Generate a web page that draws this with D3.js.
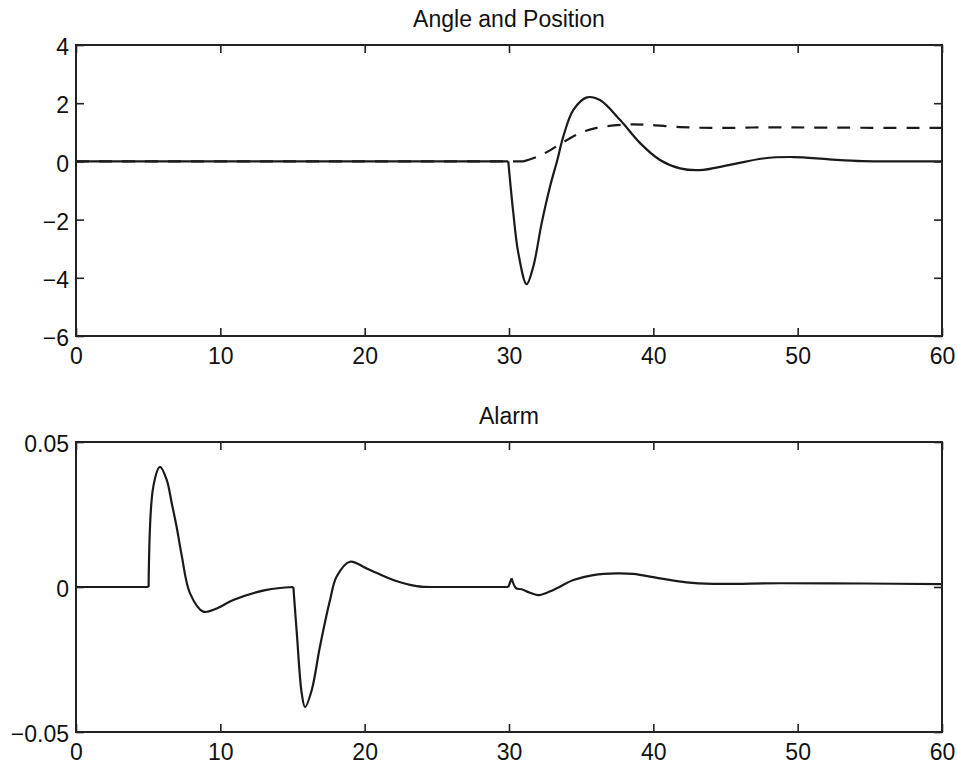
<!DOCTYPE html>
<html>
<head>
<meta charset="utf-8">
<script src="https://cdn.jsdelivr.net/npm/d3@7"></script>
<style>
  body { margin: 0; background: #fff; }
  svg { font-family: "Liberation Sans", Arial, Helvetica, sans-serif; }
  .asse text { font-size: 23px; fill: #111; }
  .asse path { display: none; }
  .asse line { stroke: #222; stroke-width: 1.6; }
  .cornice { fill: none; stroke: #222; stroke-width: 2; }
  .titolo { font-size: 23px; fill: #111; text-anchor: middle; }
  .curva { fill: none; stroke: #1a1a1a; stroke-width: 2.2; stroke-linejoin: round; }
</style>
</head>
<body>
<script>
"use strict"
/* dati */
const tempoAngolo = [0, 29.95, 30.3, 30.65, 31.22, 31.68, 32.26, 32.84, 33.35, 33.76, 34.46, 35.4, 36.3, 37.7, 39.1, 40.46, 41.85, 43.2, 45.3, 47.6, 49.7, 52.2, 54.5, 57, 60];
const valoriAngolo = [0, 0, -1.78, -3.16, -4.22, -3.62, -2.13, -0.87, 0.05, 0.85, 1.77, 2.2, 2.11, 1.42, 0.62, 0.05, -0.24, -0.3, -0.12, 0.1, 0.15, 0.07, 0.01, 0, 0];
const spigoliAngolo = [29.95]; /* punti dove la curva ha un angolo vivo */

const tempoPosizione = [0, 31.0, 32.0, 32.84, 33.65, 34.9, 36.07, 37.9, 39.5, 41.85, 44.2, 48, 52, 60];
const valoriPosizione = [0, 0, 0.17, 0.38, 0.63, 0.97, 1.15, 1.26, 1.26, 1.18, 1.15, 1.17, 1.16, 1.15];
const spigoliPosizione = [31.0];

const tempoAllarme = [0, 5.03, 5.36, 5.82, 6.28, 6.63, 6.98, 7.32, 7.9, 8.82, 9.75, 10.9, 13.2, 15.06, 15.3, 15.64, 15.87, 16.33, 16.9, 17.6, 18.06, 18.98, 20.14, 21.98, 23.6, 24.7, 29.95, 30.18, 30.49, 30.88, 31.46, 32.1, 33.07, 34.46, 35.84, 37.46, 38.6, 40.46, 42.3, 44.16, 48.8, 54.6, 60];
const valoriAllarme = [0, 0, 0.0347, 0.0414, 0.037, 0.029, 0.0205, 0.011, -0.0022, -0.0085, -0.0074, -0.0045, -0.001, 0, -0.016, -0.0367, -0.0414, -0.0356, -0.0206, -0.0045, 0.0036, 0.0087, 0.0064, 0.0024, 0.0003, 0, 0, 0.003, -0.0004, -0.0008, -0.002, -0.0028, -0.001, 0.0024, 0.0041, 0.0047, 0.0045, 0.003, 0.0016, 0.0011, 0.0013, 0.0012, 0.001];
const spigoliAllarme = [5.03, 15.06, 24.7, 29.95, 30.18];

const tickX = [0, 10, 20, 30, 40, 50, 60];
const tickYSopra = [4, 2, 0, -2, -4, -6];
const tickYSotto = [0.05, 0, -0.05];

/* misure in pixel */
const larghezza = 957, altezza = 764;
const sinistra = 76, destra = 942;

const svg = d3.select("body").append("svg")
    .attr("width", larghezza)
    .attr("height", altezza);

/* divide la serie nei tratti compresi fra gli spigoli */
function tratti(tempo, valori, spigoli) {
    const risultato = [];
    let corrente = [];
    tempo.forEach(function (t, i) {
        corrente.push([t, valori[i]]);
        if (spigoli.includes(t)) {
            if (corrente.length > 1) risultato.push(corrente);
            corrente = [[t, valori[i]]];
        }
    });
    if (corrente.length > 1) risultato.push(corrente);
    return risultato;
}

function disegnaPannello(titolo, alto, basso, dominioY, tickY, serie) {
    const scalaX = d3.scaleLinear().domain([0, 60]).range([sinistra, destra]);
    const scalaY = d3.scaleLinear().domain(dominioY).range([basso, alto]);
    const formato = d3.format("");
    const linea = d3.line()
        .x(function (d) { return scalaX(d[0]) })
        .y(function (d) { return scalaY(d[1]) })
        .curve(d3.curveCatmullRom.alpha(0.5));

    /* curve */
    serie.forEach(function (s) {
        const d = tratti(s.tempo, s.valori, s.spigoli)
            .map(function (pezzo) { return linea(pezzo) })
            .join(" ");
        svg.append("path")
            .attr("class", "curva")
            .attr("stroke-dasharray", s.tratteggio)
            .attr("d", d);
    });

    /* assi con tacche verso l'interno */
    svg.append("g").attr("class", "asse")
        .attr("transform", `translate(0,${basso})`)
        .call(d3.axisBottom(scalaX).tickValues(tickX).tickSizeInner(-8).tickSizeOuter(0).tickPadding(11.5).tickFormat(formato));
    svg.append("g").attr("class", "asse")
        .attr("transform", `translate(0,${alto})`)
        .call(d3.axisTop(scalaX).tickValues(tickX).tickSizeInner(-8).tickSizeOuter(0).tickFormat(""));
    const asseSx = svg.append("g").attr("class", "asse")
        .attr("transform", `translate(${sinistra},0)`)
        .call(d3.axisLeft(scalaY).tickValues(tickY).tickSizeInner(-8).tickSizeOuter(0).tickPadding(7).tickFormat(formato));
    asseSx.selectAll("text").attr("dy", "0.42em");
    svg.append("g").attr("class", "asse")
        .attr("transform", `translate(${destra},0)`)
        .call(d3.axisRight(scalaY).tickValues(tickY).tickSizeInner(-8).tickSizeOuter(0).tickFormat(""));

    /* cornice */
    svg.append("rect")
        .attr("class", "cornice")
        .attr("x", sinistra)
        .attr("y", alto)
        .attr("width", destra - sinistra)
        .attr("height", basso - alto);

    svg.append("text")
        .attr("class", "titolo")
        .attr("x", (sinistra + destra) / 2)
        .attr("y", alto - 18)
        .text(titolo);
}

disegnaPannello("Angle and Position", 45, 336, [-6, 4], tickYSopra, [
    { tempo: tempoAngolo, valori: valoriAngolo, spigoli: spigoliAngolo, tratteggio: null },
    { tempo: tempoPosizione, valori: valoriPosizione, spigoli: spigoliPosizione, tratteggio: "13,10" }
]);

disegnaPannello("Alarm", 442, 732, [-0.05, 0.05], tickYSotto, [
    { tempo: tempoAllarme, valori: valoriAllarme, spigoli: spigoliAllarme, tratteggio: null }
]);
</script>
</body>
</html>
